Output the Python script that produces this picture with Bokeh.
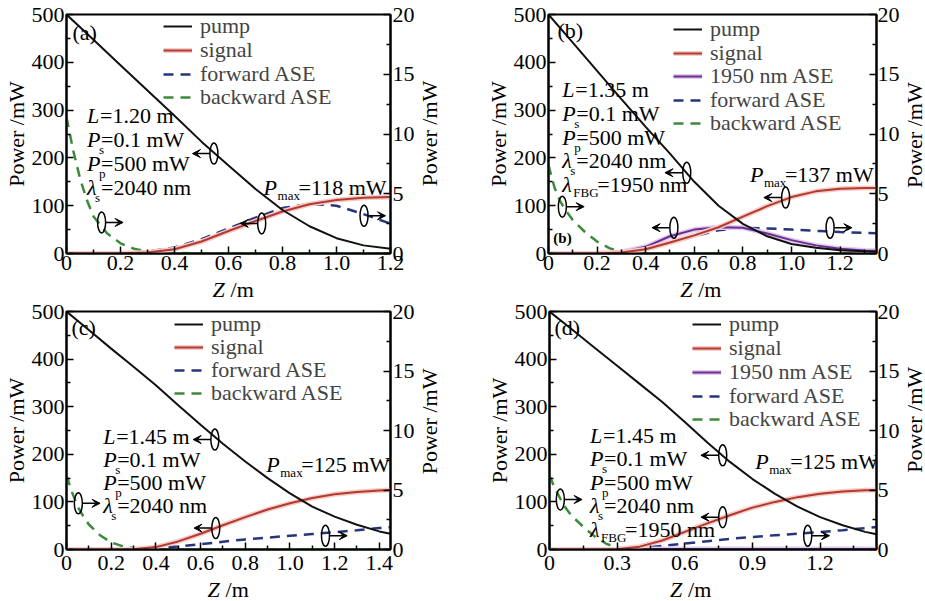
import math
from bokeh.plotting import figure
from bokeh.models import (Range1d, LinearAxis, Legend, LegendItem, Label, Arrow,
                          VeeHead, FixedTicker, CustomJSTickFormatter)
from bokeh.layouts import column, row
from bokeh.embed import file_html
from bokeh.resources import INLINE

FONT = "Liberation Serif"
FS = "22px"

# ---------------- data ----------------
# panel (a)
z_a = [0, 0.1, 0.2, 0.3, 0.4, 0.5, 0.6, 0.7, 0.8, 0.9, 1.0, 1.1, 1.2]
pump_a = [500, 447, 394, 341, 288, 234, 184, 135, 91, 57, 32, 17, 10]
signal_a = [0, 0, 0.5, 2, 9, 25, 47, 68, 88, 103, 112, 116.5, 118]
fwd_a = [0, 0, 0.05, 0.15, 0.5, 1.2, 2.1, 3.0, 3.8, 4.15, 4.0, 3.3, 2.5]
zb_a = [0, 0.025, 0.05, 0.075, 0.1, 0.15, 0.2, 0.25, 0.3, 0.4, 0.6, 0.8, 1.0, 1.2]
bwd_a = [11.4, 8.6, 6.3, 4.5, 3.1, 1.7, 0.85, 0.4, 0.15, 0.04, 0.01, 0, 0, 0]

# panel (b)
z_b = [0, 0.1, 0.2, 0.3, 0.4, 0.5, 0.6, 0.7, 0.8, 0.9, 1.0, 1.1, 1.2, 1.3, 1.35]
pump_b = [500, 441, 382, 323, 265, 209, 150, 100, 62, 36, 20, 12, 7, 4.5, 3.5]
signal_b = [0, 0, 0, 2, 9, 23, 38, 55, 77, 99, 118, 130, 135.5, 137, 137]
ase1950_b = [0, 0, 0, 3, 14, 36, 50, 55, 54, 42, 28, 17, 10, 6.5, 5.5]
fwd_b = [0, 0, 0, 0.05, 0.3, 0.85, 1.45, 1.95, 2.15, 2.1, 2.0, 1.9, 1.8, 1.72, 1.7]
zb_b = [0, 0.025, 0.05, 0.075, 0.1, 0.15, 0.2, 0.25, 0.3, 0.4, 0.6, 0.8, 1.0, 1.2, 1.35]
bwd_b = [7.4, 5.5, 4.3, 3.5, 2.8, 1.8, 1.0, 0.45, 0.12, 0.02, 0, 0, 0, 0, 0]

# panel (c)
z_c = [0, 0.1, 0.2, 0.3, 0.4, 0.5, 0.6, 0.7, 0.8, 0.9, 1.0, 1.1, 1.2, 1.3, 1.4, 1.45]
pump_c = [500, 461, 422, 384, 345, 303, 262, 222, 185, 150, 118, 90, 69, 52, 38, 33]
signal_c = [0, 0, 0, 0.5, 5, 17, 33, 51, 68, 84, 97, 108, 116, 121, 124, 125]
fwd_c = [0, 0, 0, 0, 0.1, 0.25, 0.45, 0.65, 0.85, 1.0, 1.15, 1.3, 1.45, 1.62, 1.8, 1.88]
zb_c = [0, 0.025, 0.05, 0.075, 0.1, 0.15, 0.2, 0.25, 0.3, 0.4, 0.6, 0.8, 1.0, 1.2, 1.45]
bwd_c = [6.2, 4.8, 3.6, 2.8, 2.1, 1.2, 0.6, 0.28, 0.1, 0.02, 0, 0, 0, 0, 0]

# panel (d)
z_d = [0, 0.1, 0.2, 0.3, 0.4, 0.5, 0.6, 0.7, 0.8, 0.9, 1.0, 1.1, 1.2, 1.3, 1.4, 1.45]
pump_d = [500, 462, 424, 386, 348, 310, 268, 225, 184, 148, 117, 90, 68, 51, 37, 32]
signal_d = [0, 0, 0, 0.5, 6, 19, 37, 55, 72, 88, 100, 110, 117, 122, 124.5, 125]
ase1950_d = [0, 0, 0, 0.2, 0.5, 0.8, 1.0, 1.2, 1.3, 1.3, 1.2, 1.1, 1.0, 0.9, 0.8, 0.8]
fwd_d = [0, 0, 0, 0, 0.12, 0.3, 0.5, 0.7, 0.9, 1.05, 1.2, 1.32, 1.47, 1.62, 1.8, 1.9]
zb_d = [0, 0.025, 0.05, 0.075, 0.1, 0.15, 0.2, 0.25, 0.3, 0.4, 0.6, 0.8, 1.0, 1.2, 1.45]
bwd_d = [6.2, 5.1, 4.2, 3.4, 2.8, 1.9, 1.1, 0.5, 0.15, 0.03, 0, 0, 0, 0, 0]

# tick labels / ticks
left_ticks = [0, 100, 200, 300, 400, 500]
right_ticks = [0, 5, 10, 15, 20]
x_ticks_ab = [0, 0.2, 0.4, 0.6, 0.8, 1.0, 1.2]
x_ticks_c = [0, 0.2, 0.4, 0.6, 0.8, 1.0, 1.2, 1.4]
x_ticks_d = [0, 0.3, 0.6, 0.9, 1.2]
y_title = "Power /mW"
x_title = ("Z", "/m")

# annotation content
params_a = [("L", "", "=1.20 m"), ("P", "s", "=0.1 mW"), ("P", "p", "=500 mW"), ("λ", "s", "=2040 nm")]
params_b = [("L", "", "=1.35 m"), ("P", "s", "=0.1 mW"), ("P", "p", "=500 mW"), ("λ", "s", "=2040 nm"),
            ("λ", "FBG", "=1950 nm")]
params_c = [("L", "", "=1.45 m"), ("P", "s", "=0.1 mW"), ("P", "p", "=500 mW"), ("λ", "s", "=2040 nm")]
params_d = [("L", "", "=1.45 m"), ("P", "s", "=0.1 mW"), ("P", "p", "=500 mW"), ("λ", "s", "=2040 nm"),
            ("λ", "FBG", "=1950 nm")]
pmax_a, pmax_b, pmax_c, pmax_d = "=118 mW", "=137 mW", "=125 mW", "=125 mW"

# curve-marker ellipses (z, power on left scale, arrow direction)
ell_a = ([0.546, 0.723, 0.130, 1.102], [209, 63, 65, 79], [-1, -1, 1, 1])
ell_b = ([0.569, 0.976, 0.516, 0.057, 1.159], [169, 117, 54, 98, 54], [-1, -1, -1, 1, 1])
ell_c = ([0.664, 0.668, 0.053, 1.159], [231, 45, 97, 29], [-1, -1, 1, 1])
ell_d = ([0.768, 0.768, 0.048, 1.145], [198, 68, 105, 29], [-1, -1, 1, 1])

PUMP = "#111111"
SIG = "#b23a30"
SIG_GLOW = "#f5ccc8"
PUR = "#6c2d92"
PUR_GLOW = "#e0cbec"
BLUE = "#27357c"
GREEN = "#3c8a3c"

PANELS = [
    dict(tag="(a)", w=417, h=277, bl=61, br=24, rst=2, bt=14, bb=24, xst=2, xmax=1.2, xticks=x_ticks_ab,
         z=z_a, pump=pump_a, signal=signal_a, ase=None, fwd=fwd_a, zb=zb_a, bwd=bwd_a,
         params=params_a, block=(0.076, 289, 24), pmax=pmax_a, pmax_pos=(0.73, 138),
         ell=ell_a, tag_pos=(0.022, 462), leg=(97, 12, 23.7), lab_w=23, lab_y=0.502,
         zlab=(0.546, 23, 0.5)),
    dict(tag="(b)", w=462, h=277, bl=108, br=23, rst=1, bt=14, bb=24, xst=2, xmax=1.35, xticks=x_ticks_ab,
         z=z_b, pump=pump_b, signal=signal_b, ase=ase1950_b, fwd=fwd_b, zb=zb_b, bwd=bwd_b,
         params=params_b, block=(0.057, 343, 23.75), pmax=pmax_b, pmax_pos=(0.829, 165),
         ell=ell_b, tag_pos=(0.037, 466), leg=(125, 15, 23.5), extra=(0.02, 33),
         lab_w=23, lab_y=0.495, zlab=(0.537, 23, 0.5)),
    dict(tag="(c)", w=417, h=277, bl=65, br=24, rst=2, bt=11, bb=28, xst=6, xmax=1.45, xticks=x_ticks_c,
         z=z_c, pump=pump_c, signal=signal_c, ase=None, fwd=fwd_c, zb=zb_c, bwd=bwd_c,
         params=params_c, block=(0.164, 238, 23), pmax=pmax_c, pmax_pos=(0.894, 178),
         ell=ell_c, tag_pos=(0.022, 467), leg=(108, 13, 23), lab_w=23, lab_y=0.538,
         zlab=(0.628, 24, 0.5)),
    dict(tag="(d)", w=462, h=277, bl=109, br=23, rst=1, bt=11, bb=28, xst=6, xmax=1.45, xticks=x_ticks_d,
         z=z_d, pump=pump_d, signal=signal_d, ase=ase1950_d, fwd=fwd_d, zb=zb_d, bwd=bwd_d,
         params=params_d, block=(0.18, 240, 23.5), pmax=pmax_d, pmax_pos=(0.912, 184),
         ell=ell_d, tag_pos=(0.022, 467), leg=(143, 13, 23.75), lab_w=23, lab_y=0.545,
         zlab=(0.53, 24, 0.5)),
]


def label(p, x, y, text, dx=0, size=FS, style="normal", align="left", angle=0.0):
    p.add_layout(Label(x=x, y=y, x_offset=dx, text=text, text_font=FONT, text_font_size=size,
                       text_font_style=style, text_color="black", text_align=align,
                       text_baseline="middle", angle=angle))


def make_panel(c):
    fw = c["w"] - c["bl"] - c["br"]
    fh = c["h"] - c["bt"] - c["bb"]
    sx = c["xmax"] / fw      # data per px (x)
    sy = 500.0 / fh          # data per px (left y)
    p = figure(width=c["w"], height=c["h"], output_backend="svg", toolbar_location=None, tools="",
               x_range=Range1d(0, c["xmax"]), y_range=Range1d(0, 500),
               min_border_left=c["bl"], min_border_right=c["br"],
               min_border_top=c["bt"], min_border_bottom=c["bb"])
    p.extra_y_ranges = {"r": Range1d(0, 20)}
    p.add_layout(LinearAxis(y_range_name="r"), "right")
    p.xgrid.visible = False
    p.ygrid.visible = False
    p.outline_line_color = "black"
    p.outline_line_width = 2
    p.background_fill_color = "white"
    p.border_fill_color = "white"

    for ax in p.axis:
        ax.axis_line_width = 2
        ax.axis_line_color = "black"
        ax.major_tick_in = 7
        ax.major_tick_out = 0
        ax.minor_tick_in = 4
        ax.minor_tick_out = 0
        ax.major_tick_line_width = 1.5
        ax.minor_tick_line_width = 1.5
        ax.major_tick_line_color = "black"
        ax.minor_tick_line_color = "black"
        ax.major_label_text_font = FONT
        ax.major_label_text_font_size = FS
        ax.major_label_text_color = "black"
        ax.major_label_text_line_height = 1.0
        ax.major_label_standoff = 2
        ax.axis_label_text_font = FONT
        ax.axis_label_text_font_size = FS
        ax.axis_label_text_font_style = "normal"
        ax.axis_label_text_color = "black"
        ax.axis_label_text_line_height = 1.0
        ax.axis_label_standoff = 0

    xt = c["xticks"]
    step = xt[1] - xt[0]
    xminor = [t + step / 2 for t in xt if t + step / 2 < c["xmax"]]
    xa = p.below[0]
    xa.ticker = FixedTicker(ticks=xt, minor_ticks=xminor)
    xa.formatter = CustomJSTickFormatter(code="return tick == 0 ? '0' : tick.toFixed(1);")
    xa.major_label_standoff = c["xst"]
    p.left[0].ticker = FixedTicker(ticks=left_ticks, minor_ticks=[t + 50 for t in left_ticks[:-1]])
    p.left[0].axis_label = y_title
    rax = p.right[0]
    rax.ticker = FixedTicker(ticks=right_ticks, minor_ticks=[t + 2.5 for t in right_ticks[:-1]])
    rax.major_label_standoff = c["rst"]

    # curves
    rb = p.line(c["zb"], c["bwd"], y_range_name="r", line_color=GREEN, line_width=2.5, line_dash="10 7")
    rf = p.line(c["z"], c["fwd"], y_range_name="r", line_color=BLUE, line_width=2.5, line_dash="10 7")
    ra = None
    if c["ase"] is not None:
        ag = p.line(c["z"], c["ase"], line_color=PUR_GLOW, line_width=5)
        al = p.line(c["z"], c["ase"], line_color=PUR, line_width=2)
        ra = [ag, al]
    sg = p.line(c["z"], c["signal"], line_color=SIG_GLOW, line_width=5)
    sl = p.line(c["z"], c["signal"], line_color=SIG, line_width=2)
    rp = p.line(c["z"], c["pump"], line_color=PUMP, line_width=2)

    items = [LegendItem(label="pump", renderers=[rp]), LegendItem(label="signal", renderers=[sg, sl])]
    if ra is not None:
        items.append(LegendItem(label="1950 nm ASE", renderers=ra))
    items += [LegendItem(label="forward ASE", renderers=[rf]),
              LegendItem(label="backward ASE", renderers=[rb])]
    # one legend box per entry so that the row pitch follows the original
    H1 = 26.7
    ldx, lcy, pitch = c["leg"]
    for i, it in enumerate(items):
        cy = lcy + i * pitch
        leg = Legend(items=[it], location=(ldx, fh - cy - H1 / 2), background_fill_alpha=0,
                     border_line_alpha=0, label_text_font=FONT, label_text_font_size=FS,
                     glyph_width=29, glyph_height=20, label_height=20, label_standoff=8,
                     spacing=0, padding=0, margin=0)
        p.add_layout(leg)

    # panel tag
    label(p, c["tag_pos"][0], c["tag_pos"][1], c["tag"])
    if "extra" in c:
        label(p, c["extra"][0], c["extra"][1], "(b)", size="15px", style="bold")

    # parameter block
    bx, by, pitch = c["block"]
    for i, (main, sub, rest) in enumerate(c["params"]):
        y = by - i * pitch * sy
        label(p, bx, y, main, style="italic")
        if sub == "FBG":
            label(p, bx, y - 8 * sy, sub, dx=11, size="13px")
            label(p, bx, y, rest, dx=35)
        elif sub:
            label(p, bx, y - 10 * sy, sub, dx=12 if main == "P" else 8, size="13px")
            label(p, bx, y, rest, dx=14)
        else:
            label(p, bx, y, rest, dx=13)

    # P_max
    px_, py_ = c["pmax_pos"]
    label(p, px_, py_, "P", style="italic")
    label(p, px_, py_ - 8 * sy, "max", dx=14, size="13px")
    label(p, px_, py_, c["pmax"], dx=35)

    # ellipses + arrows
    ex, ey, ed = c["ell"]
    p.ellipse(x=ex, y=ey, width=8, height=21, width_units="screen", height_units="screen",
              fill_alpha=0, line_color="black", line_width=1.5)
    for x0, y0, d in zip(ex, ey, ed):
        xs = x0 + d * 4 * sx
        xe = xs + d * 18 * sx
        p.add_layout(Arrow(end=VeeHead(size=8, fill_color="black", line_color="black", line_width=1),
                           x_start=xs, y_start=y0, x_end=xe, y_end=y0,
                           line_color="black", line_width=1.5))
    return p


def blank(width, height, x_range, bl=0, br=0):
    q = figure(width=width, height=height, output_backend="svg", toolbar_location=None, tools="",
               x_range=x_range, y_range=Range1d(0, 1), x_axis_type=None, y_axis_type=None,
               min_border=0, min_border_left=bl, min_border_right=br, title=None)
    q.grid.visible = False
    q.outline_line_color = None
    q.background_fill_color = "white"
    q.border_fill_color = "white"
    return q


def make_side_label(c):
    # narrow strip carrying the right-hand axis title, read bottom-to-top
    q = blank(c["lab_w"], c["h"], Range1d(0, 1))
    label(q, 0.5, c["lab_y"], y_title, align="center", angle=math.pi / 2)
    return q


def make_bottom_label(c, p):
    # strip under the panel carrying the x-axis title (italic Z), sharing the panel's x scale
    zx, hh, zy = c["zlab"]
    q = blank(c["w"] + c["lab_w"], hh, p.x_range, bl=c["bl"], br=c["br"] + c["lab_w"])
    label(q, zx, zy, x_title[0], style="italic")
    label(q, zx, zy, x_title[1], dx=18)
    return q


figs = [make_panel(c) for c in PANELS]
sides = [make_side_label(c) for c in PANELS]
bots = [make_bottom_label(c, p) for c, p in zip(PANELS, figs)]
layout = column(row(figs[0], sides[0], figs[1], sides[1]),
                row(bots[0], bots[1]),
                row(figs[2], sides[2], figs[3], sides[3]),
                row(bots[2], bots[3]))
open("out.html", "w").write(file_html(layout, INLINE))
